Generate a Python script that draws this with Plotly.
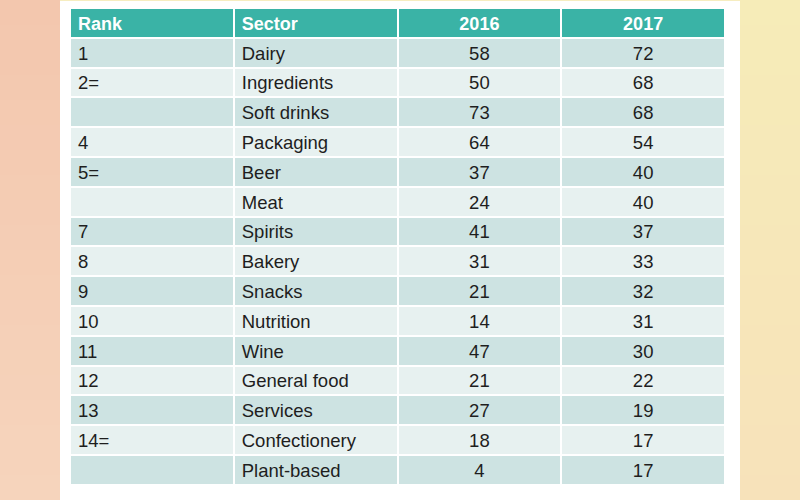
import plotly.graph_objects as go

ranks = ["1", "2=", "", "4", "5=", "", "7", "8", "9", "10", "11", "12", "13", "14=", ""]
sectors = ["Dairy", "Ingredients", "Soft drinks", "Packaging", "Beer", "Meat", "Spirits",
           "Bakery", "Snacks", "Nutrition", "Wine", "General food", "Services",
           "Confectionery", "Plant-based"]
v2016 = [58, 50, 73, 64, 37, 24, 41, 31, 21, 14, 47, 21, 27, 18, 4]
v2017 = [72, 68, 68, 54, 40, 40, 37, 33, 32, 31, 30, 22, 19, 17, 17]
headers = ["Rank", "Sector", "2016", "2017"]

W, H = 800, 500
dark = "#CDE3E2"
light = "#E7F1F0"
row_fill = [dark if i % 2 == 0 else light for i in range(len(sectors))]

fig = go.Figure()
fig.add_trace(go.Table(
    domain=dict(x=[70 / W, 725 / W], y=[1 - 490 / H, 1 - 8 / H]),
    columnwidth=[1, 1, 1, 1],
    header=dict(
        values=headers,
        fill_color="#3AB3A6",
        line=dict(color="white", width=2),
        align=["left", "left", "center", "center"],
        font=dict(family="Liberation Sans, Arial", size=18, color="white", weight="bold"),
        height=29.8,
    ),
    cells=dict(
        values=[ranks, sectors, v2016, v2017],
        fill_color=[row_fill] * 4,
        line=dict(color="white", width=2),
        align=["left", "left", "center", "center"],
        font=dict(family="Liberation Sans, Arial", size=18.5, color="#1E1E1E"),
        height=29.8,
    ),
))

shapes = []
n = 20
def lerp(c1, c2, t):
    return "rgb(%d,%d,%d)" % tuple(round(a + (b - a) * t) for a, b in zip(c1, c2))
for i in range(n):
    t = i / (n - 1)
    y0 = i * H / n
    y1 = (i + 1) * H / n
    shapes.append(dict(type="rect", xref="paper", yref="paper", x0=0, x1=62 / W,
                       y0=1 - y1 / H, y1=1 - y0 / H, line=dict(width=0),
                       fillcolor=lerp((243, 199, 174), (246, 212, 188), t), layer="below"))
    shapes.append(dict(type="rect", xref="paper", yref="paper", x0=738 / W, x1=1,
                       y0=1 - y1 / H, y1=1 - y0 / H, line=dict(width=0),
                       fillcolor=lerp((246, 236, 184), (247, 226, 186), t), layer="below"))
shapes.append(dict(type="rect", xref="paper", yref="paper", x0=60 / W, x1=740 / W,
                   y0=0, y1=1 - 1 / H, line=dict(width=0), fillcolor="white", layer="below"))
shapes.append(dict(type="rect", xref="paper", yref="paper", x0=60 / W, x1=740 / W,
                   y0=1 - 1 / H, y1=1, line=dict(width=0), fillcolor="#F6EDC0", layer="below"))

fig.update_layout(
    width=W, height=H,
    margin=dict(l=0, r=0, t=0, b=0),
    paper_bgcolor="white",
    plot_bgcolor="white",
    shapes=shapes,
)
fig.write_html(
    "out.html",
    config={"displayModeBar": False},
    post_script="document.body.style.margin='0';document.body.style.overflow='hidden';",
)
